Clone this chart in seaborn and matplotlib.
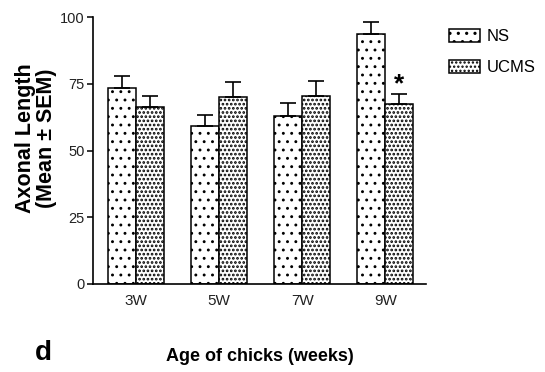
import matplotlib
matplotlib.use("Agg")
import matplotlib.pyplot as plt
import matplotlib.transforms as mtransforms
import seaborn as sns
import pandas as pd
import numpy as np
from matplotlib.patches import Patch

categories = ["3W", "5W", "7W", "9W"]
groups = ["NS", "UCMS"]
ns_mean = [73.5, 59.3, 63.0, 93.5]
ns_sem = [4.5, 4.0, 5.0, 4.5]
ucms_mean = [66.3, 70.0, 70.5, 67.3]
ucms_sem = [4.2, 5.6, 5.5, 4.0]
yticks = [0, 25, 50, 75, 100]
hatches = {"NS": "..", "UCMS": "...."}
hatch_lw = {"NS": 0.9, "UCMS": 1.3}

sns.set_theme(style="ticks")
plt.rcParams['font.family'] = ['Liberation Sans', 'DejaVu Sans']
plt.rcParams['hatch.linewidth'] = 1.1
plt.rcParams['hatch.color'] = 'black'
plt.rcParams['text.color'] = 'black'

df = pd.DataFrame({
    "age": categories * 2,
    "group": [groups[0]] * 4 + [groups[1]] * 4,
    "mean": ns_mean + ucms_mean,
    "sem": ns_sem + ucms_sem,
})

fig = plt.figure(figsize=(5.45, 3.72), dpi=100)
ax = fig.add_axes([0.171, 0.2366, 0.611, 0.7174])

sns.barplot(data=df, x="age", y="mean", hue="group", order=categories,
            hue_order=groups, palette=["white", "white"], edgecolor="black",
            linewidth=1.1, width=0.675, errorbar=None, ax=ax, legend=False)

def style_hatch(p, g):
    p.set_hatch(hatches[g])
    if hasattr(p, "set_hatch_linewidth"):
        p.set_hatch_linewidth(hatch_lw[g])

for cont, g in zip(ax.containers, groups):
    sub = df[df.group == g].set_index("age").loc[categories]
    xs = [p.get_x() + p.get_width() / 2 for p in cont.patches]
    for p in cont.patches:
        style_hatch(p, g)
    ax.errorbar(xs, sub["mean"].values,
                yerr=[np.zeros(len(xs)), sub["sem"].values],
                fmt="none", ecolor="black", elinewidth=1.2, capsize=5.5,
                capthick=1.2, zorder=1)
    if g == "UCMS":
        i = categories.index("9W")
        top = sub["mean"].values[i] + sub["sem"].values[i]
        off = mtransforms.offset_copy(ax.transData, fig=fig, x=0, y=2, units="dots")
        ax.text(xs[i], top, "*", ha="center", va="baseline", fontsize=19,
                fontweight="bold", transform=off)

ax.set_ylim(0, 100)
ax.set_xlim(-0.518, 3.494)
ax.set_yticks(yticks)
ax.set_yticklabels([str(t) for t in yticks], fontsize=10.5, color="#222222")
ax.tick_params(axis="y", length=4.5, width=1.1, direction="out", pad=1.5, color="black")
ax.tick_params(axis="x", length=0, pad=7, labelsize=11, labelcolor="#222222")
for s in ["top", "right"]:
    ax.spines[s].set_visible(False)
for s in ["left", "bottom"]:
    ax.spines[s].set_linewidth(1.2)
    ax.spines[s].set_color("black")

ax.set_xlabel("")
ax.set_ylabel("")
fig.text(0.066, 0.629, "Axonal Length\n(Mean ± SEM)", rotation=90, ha="center",
         va="center", fontsize=15.5, fontweight="bold", linespacing=1.0,
         multialignment="center")

fig.text(0.477, 0.043, "Age of chicks (weeks)", ha="center", va="center",
         fontsize=13, fontweight="bold")
fig.text(0.08, 0.052, "d", ha="center", va="center", fontsize=20, fontweight="bold")

handles = []
for g in groups:
    h = Patch(facecolor="white", edgecolor="black", linewidth=1.1, label=g)
    style_hatch(h, g)
    handles.append(h)
leg = fig.legend(handles=handles, loc="upper left", bbox_to_anchor=(0.824, 0.923),
                 frameon=False, fontsize=12, handlelength=1.86, handleheight=0.84,
                 labelspacing=0.96, handletextpad=0.42, borderpad=0, borderaxespad=0)
for t in leg.get_texts():
    t.set_color("black")

fig.savefig("out.png", dpi=100)
